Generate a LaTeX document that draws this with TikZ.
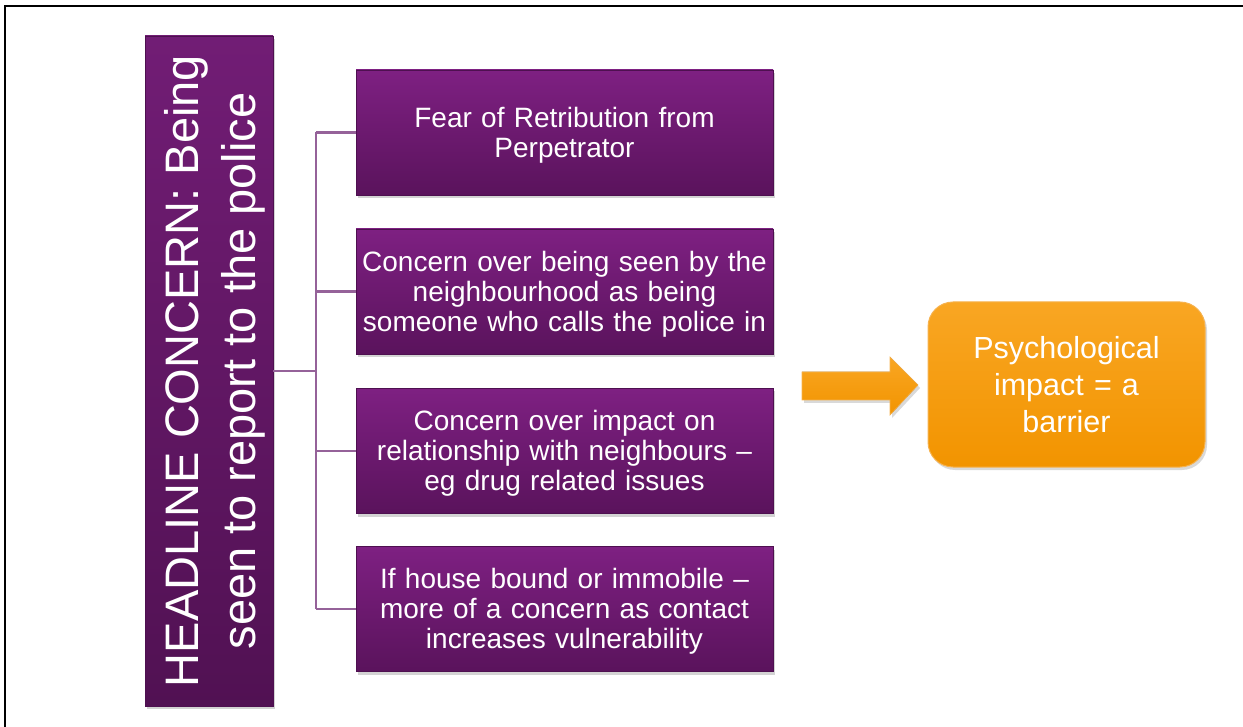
\documentclass[tikz,border=0pt]{standalone}
\usepackage{fontspec}
\setmainfont{Liberation Sans}
\usetikzlibrary{shadows}
\definecolor{plumtop}{HTML}{7E2082}
\definecolor{plumbot}{HTML}{5A135C}
\definecolor{plumedge}{HTML}{4E1050}
\definecolor{linkcol}{HTML}{956299}
\definecolor{ambertop}{HTML}{F9A623}
\definecolor{amberbot}{HTML}{F29400}
\definecolor{amberedge}{HTML}{F6B24E}
\tikzset{
  x=1pt, y=1pt,
  card/.style={draw=plumedge, line width=0.6pt, top color=plumtop, bottom color=plumbot,
    minimum width=417pt, minimum height=125pt, inner sep=0pt,
    text=white, align=center, text width=412pt,
    font=\fontsize{28}{30}\selectfont,
    drop shadow={opacity=0.35, shadow xshift=2pt, shadow yshift=-3pt}},
  cardtext/.style={text=white, align=center, text width=412pt, inner sep=0pt,
    font=\fontsize{28}{30}\selectfont},
  headbar/.style={draw=plumedge, line width=0.6pt, top color=plumtop!90!black, bottom color=plumbot!90!black,
    minimum width=128pt, minimum height=670pt, inner sep=0pt,
    drop shadow={opacity=0.35, shadow xshift=2pt, shadow yshift=-3pt}},
  headtext/.style={rotate=90, text=white, align=center, font=\fontsize{47}{57}\selectfont},
  outcome/.style={draw=amberedge, line width=1pt, top color=ambertop, bottom color=amberbot,
    rounded corners=25pt, minimum width=277pt, minimum height=165pt, inner sep=0pt,
    text=white, align=center, text width=260pt, font=\fontsize{30.5}{37}\selectfont,
    drop shadow={opacity=0.3, shadow xshift=2pt, shadow yshift=-3pt}},
  link/.style={draw=linkcol, line width=2.6pt},
  frame/.style={draw=black, line width=2pt}
}
\begin{document}
\begin{tikzpicture}
\useasboundingbox (0,0) rectangle (1243,-727);
% outer frame (top and left edges)
\draw[frame] (5,-727) -- (5,-6) -- (1243,-6);

% headline bar
\node[headbar] (bar) at (209,-371) {};
\node[headtext] (bartext) at (215,-371) {HEADLINE CONCERN: Being\\seen to report to the police};

% concern cards (text set slightly below the geometric centre)
\node[card] (c1) at (564.5,-132.5) {};
\node[cardtext] (t1) at ([yshift=-2.5pt]c1.center) {Fear of Retribution from\\Perpetrator};
\node[card] (c2) at (564.5,-291.5) {};
\node[cardtext] (t2) at ([yshift=-2.5pt]c2.center) {Concern over being seen by the\\neighbourhood as being\\someone who calls the police in};
\node[card] (c3) at (564.5,-451) {};
\node[cardtext] (t3) at ([yshift=-2.5pt]c3.center) {Concern over impact on\\relationship with neighbours –\\eg drug related issues};
\node[card] (c4) at (564.5,-609) {};
\node[cardtext] (t4) at ([yshift=-2.5pt]c4.center) {If house bound or immobile –\\more of a concern as contact\\increases vulnerability};

% connectors
\coordinate (trunk) at (316,-371);
\draw[link] (bar.east) -- (trunk);
\draw[link] (trunk |- c1.west) -- (trunk |- c4.west);
\foreach \c in {c1,c2,c3,c4} \draw[link] (trunk |- \c.west) -- (\c.west);

% outcome
\node[outcome] (out) at (1066.5,-384.5) {Psychological\\impact = a\\barrier};

% block arrow
\coordinate (tail) at (802,-386);
\fill[top color=ambertop, bottom color=amberbot, draw=amberedge, line width=0.6pt,
  drop shadow={opacity=0.3, shadow xshift=2pt, shadow yshift=-3pt}]
  (tail) ++(0,14) -- ++(88,0) -- ++(0,15) -- (918,-385) -- (890,-415) -- ++(0,15) -- ++(-88,0) -- cycle;
\end{tikzpicture}
\end{document}
